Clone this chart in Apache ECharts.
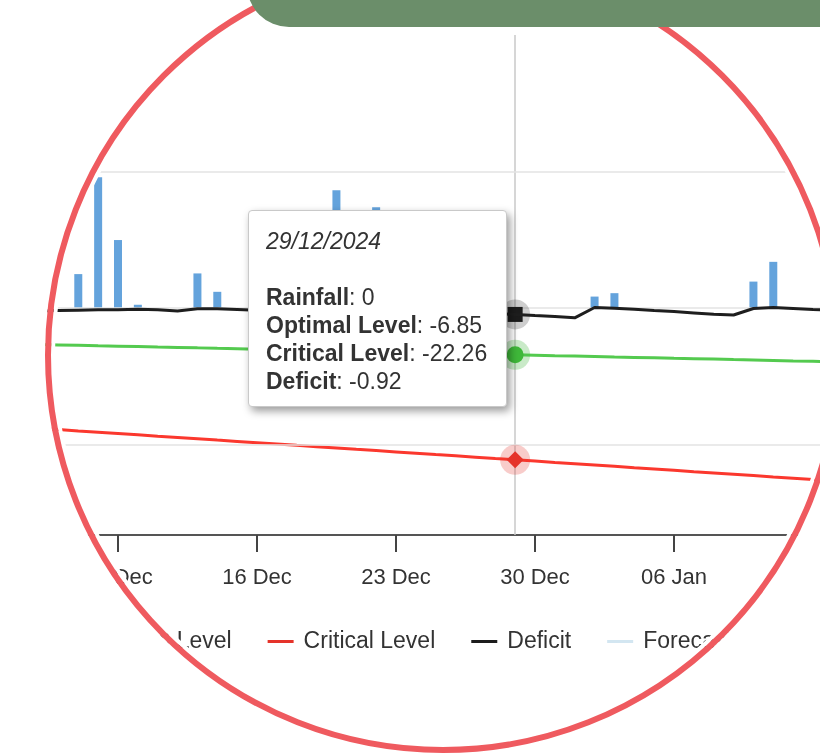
<!DOCTYPE html>
<html>
<head>
<meta charset="utf-8">
<script src="https://cdn.jsdelivr.net/npm/echarts@6/dist/echarts.min.js"></script>
<style>
html,body{margin:0;padding:0;background:#fff;overflow:hidden;width:820px;height:753px}
#chart{position:absolute;left:0;top:0;width:820px;height:753px}
#lens{position:absolute;left:45px;top:-43px;width:796px;height:796px;box-sizing:border-box;border:6px solid #ef5a5f;border-radius:50%;box-shadow:0 0 0 1400px #fff, inset 0 0 0 4px #fff;pointer-events:none;z-index:10}
#tab{position:absolute;left:247px;top:-20px;width:660px;height:47px;background:#6b8e6a;border-bottom-left-radius:42px;z-index:11}
</style>
</head>
<body>
<div id="chart"></div>
<div id="lens"></div>
<div id="tab"></div>
<script>
// ---- data ----
const dates = [
  '2024-12-04','2024-12-05','2024-12-06','2024-12-07','2024-12-08','2024-12-09','2024-12-10',
  '2024-12-11','2024-12-12','2024-12-13','2024-12-14','2024-12-15','2024-12-16','2024-12-17',
  '2024-12-18','2024-12-19','2024-12-20','2024-12-21','2024-12-22','2024-12-23','2024-12-24',
  '2024-12-25','2024-12-26','2024-12-27','2024-12-28','2024-12-29','2024-12-30','2024-12-31',
  '2025-01-01','2025-01-02','2025-01-03','2025-01-04','2025-01-05','2025-01-06','2025-01-07',
  '2025-01-08','2025-01-09','2025-01-10','2025-01-11','2025-01-12','2025-01-13','2025-01-14',
  '2025-01-15'
];
const rainfall = [
  0, 0, 0, 5.0, 19.2, 10.0, 0.5,
  0, 0, 5.1, 2.4, 0, 0, 0,
  0, 0, 17.3, 0, 14.8, 0, 0,
  0, 0, 0, 0, 0, 0, 0,
  0, 1.7, 2.2, 0, 0, 0, 0,
  0, 0, 3.9, 6.8, 0, 0, 0,
  0
];
const optimalLevel = [
  -5.26, -5.33, -5.39, -5.45, -5.52, -5.58, -5.64,
  -5.71, -5.77, -5.83, -5.90, -5.96, -6.02, -6.09,
  -6.15, -6.21, -6.28, -6.34, -6.40, -6.47, -6.53,
  -6.60, -6.66, -6.72, -6.79, -6.85, -6.91, -6.98,
  -7.04, -7.10, -7.17, -7.23, -7.29, -7.36, -7.42,
  -7.48, -7.55, -7.61, -7.67, -7.74, -7.80, -7.86,
  -7.93
];
const criticalLevel = [
  -17.44, -17.63, -17.82, -18.02, -18.21, -18.40, -18.59,
  -18.79, -18.98, -19.17, -19.37, -19.56, -19.75, -19.94,
  -20.14, -20.33, -20.52, -20.72, -20.91, -21.10, -21.29,
  -21.49, -21.68, -21.87, -22.07, -22.26, -22.45, -22.65,
  -22.84, -23.03, -23.22, -23.42, -23.61, -23.80, -24.00,
  -24.19, -24.38, -24.57, -24.77, -24.96, -25.15, -25.35,
  -25.54
];
const deficit = [
  -0.45, -0.40, -0.35, -0.30, -0.25, -0.25, -0.15,
  -0.25, -0.40, -0.10, -0.10, -0.20, -0.30, -0.35,
  -0.45, -0.55, -0.10, -0.20, 0.00, -0.15, -0.30,
  -0.45, -0.55, -0.70, -0.80, -0.92, -1.08, -1.23,
  -1.42, 0.10, 0.00, -0.15, -0.35, -0.50, -0.70,
  -0.90, -1.00, -0.05, 0.10, -0.05, -0.20, -0.30,
  -0.40
];
const forecast = [];
const xTickLabels = ['02 Dec','09 Dec','16 Dec','23 Dec','30 Dec','06 Jan','13 Jan','20 Jan'];
const yGridValues = [20, 0, -20];
const highlightDate = '2024-12-29';
const axisOrigin = '2024-12-02';

// ---- build ----
const FONT = '"Liberation Sans", Arial, Helvetica, sans-serif';
const DAY = 86400000;
const originMs = Date.parse(axisOrigin + 'T00:00:00Z');
const dayIdx = dates.map(d => (Date.parse(d + 'T00:00:00Z') - originMs) / DAY);
const pairs = arr => arr.map((v, i) => [dayIdx[i], v]);
const hi = dates.indexOf(highlightDate);
const fmtDate = d => { const p = d.split('-'); return p[2] + '/' + p[1] + '/' + p[0]; };

const halo = (arr, color, haloColor, symbol, size) => ({
  silent: true,
  label: {show: false},
  animation: false,
  data: [
    {coord: [dayIdx[hi], arr[hi]], symbol: 'circle', symbolSize: 30, itemStyle: {color: haloColor}},
    {coord: [dayIdx[hi], arr[hi]], symbol: symbol, symbolSize: size, itemStyle: {color: color}}
  ]
});

const chart = echarts.init(document.getElementById('chart'), null, {renderer: 'canvas'});
chart.setOption({
  animation: false,
  backgroundColor: '#fff',
  grid: {left: -21, right: -132, top: 35, bottom: 218, containLabel: false, outerBoundsMode: 'none'},
  xAxis: {
    type: 'value', min: 0, max: 49, interval: 7,
    axisLine: {show: true, onZero: false, lineStyle: {color: '#555', width: 2}},
    axisTick: {show: true, length: 17, lineStyle: {color: '#444', width: 2}},
    axisLabel: {formatter: v => xTickLabels[Math.round(v / 7)], color: '#333', fontSize: 22, fontFamily: FONT, margin: 32},
    splitLine: {show: false}
  },
  yAxis: {
    type: 'value', min: -33.3, max: 40.1,
    axisLine: {show: false}, axisTick: {show: false}, axisLabel: {show: false}, splitLine: {show: false}
  },
  tooltip: {
    trigger: 'axis', triggerOn: 'none', alwaysShowContent: true,
    position: [248, 210], transitionDuration: 0,
    backgroundColor: '#fff', borderColor: '#c9c9c9', borderWidth: 1,
    padding: [16, 16, 13, 17],
    textStyle: {color: '#333', fontSize: 23, fontFamily: FONT},
    extraCssText: 'box-shadow:3px 4px 9px rgba(0,0,0,0.4);border-radius:4px;line-height:28px;width:259px;height:197px;box-sizing:border-box;white-space:nowrap;',
    axisPointer: {type: 'line', z: 1, lineStyle: {color: '#c8c8c8', width: 1.5, type: 'solid'}, label: {show: false}},
    formatter: params => {
      const idx = params[0].dataIndex;
      let s = '<div style="font-style:italic;line-height:28px">' + fmtDate(dates[idx]) + '</div><div style="line-height:28px">&nbsp;</div>';
      params.forEach(p => {
        s += '<div style="line-height:28px"><b>' + p.seriesName + '</b>: ' + p.value[1] + '</div>';
      });
      return s;
    }
  },
  legend: {
    data: ['Optimal Level', 'Critical Level', 'Deficit', 'Forecast'],
    left: 55, top: 630, padding: 0,
    icon: 'rect', itemWidth: 26, itemHeight: 3, itemGap: 36,
    textStyle: {fontSize: 23, color: '#333', fontFamily: FONT, padding: [0, 0, 0, 5]}
  },
  series: [
    {
      name: 'Rainfall', type: 'bar', data: pairs(rainfall), barWidth: 8, z: 2,
      itemStyle: {color: '#64a3dc'},
      markLine: {
        silent: true, symbol: ['none', 'none'], label: {show: false}, animation: false,
        lineStyle: {color: '#e3e3e3', width: 1.5, type: 'solid'},
        data: yGridValues.map(v => ({yAxis: v}))
      }
    },
    {
      name: 'Optimal Level', type: 'line', data: pairs(optimalLevel), symbol: 'none', z: 3,
      lineStyle: {color: '#4db848', width: 3}, itemStyle: {color: '#4db848'},
      markPoint: halo(optimalLevel, '#3fb83a', 'rgba(77,184,72,0.3)', 'circle', 17)
    },
    {
      name: 'Critical Level', type: 'line', data: pairs(criticalLevel), symbol: 'none', z: 3,
      lineStyle: {color: '#e5332a', width: 3}, itemStyle: {color: '#e5332a'},
      markPoint: halo(criticalLevel, '#e5332a', 'rgba(229,51,42,0.25)', 'diamond', 17)
    },
    {
      name: 'Deficit', type: 'line', data: pairs(deficit), symbol: 'none', z: 5,
      lineStyle: {color: '#1c1c1c', width: 3}, itemStyle: {color: '#1c1c1c'},
      markPoint: halo(deficit, '#1c1c1c', 'rgba(60,60,60,0.25)', 'rect', 15)
    },
    {
      name: 'Forecast', type: 'line', data: pairs(forecast), symbol: 'none', z: 1,
      lineStyle: {color: '#d3e6f1', width: 3}, itemStyle: {color: '#d3e6f1'}
    }
  ]
});
chart.dispatchAction({type: 'showTip', seriesIndex: 0, dataIndex: hi});
</script>
</body>
</html>
